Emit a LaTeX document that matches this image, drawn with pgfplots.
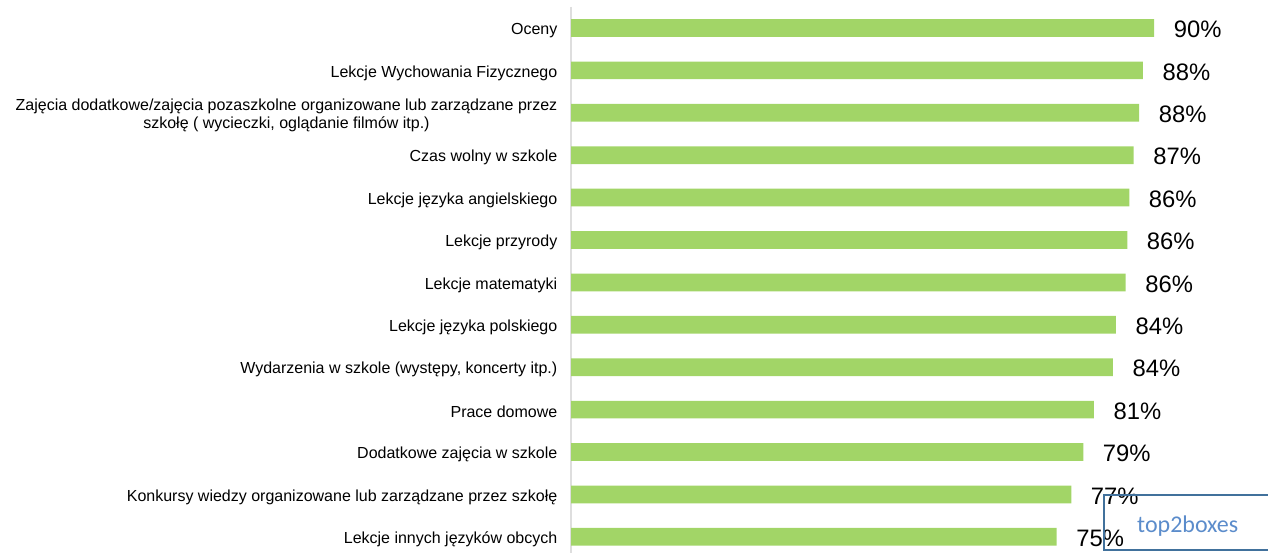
\documentclass[border=0pt]{standalone}
\usepackage{fontspec}
\setmainfont{Liberation Sans}
\newfontfamily\carlito{Carlito}
\usepackage{pgfplots}
\pgfplotsset{compat=1.18}
\usepackage{pgfplotstable}

\definecolor{bargreen}{HTML}{A2D567}
\definecolor{boxblue}{HTML}{41719C}
\definecolor{txtblue}{HTML}{5B8CCB}

% share of answers (top 2 boxes), rows top to bottom
\pgfplotstableread{
idx val
0  90.0
1  88.26
2  87.69
3  86.82
4  86.15
5  85.84
6  85.59
7  84.09
8  83.62
9  80.70
10 79.05
11 77.20
12 74.94
}\mydata

\begin{document}
\begin{tikzpicture}
\path[use as bounding box] (0,0) rectangle (1268pt,553pt);
\begin{axis}[
    at={(571pt,546.2pt)}, anchor=north west,
    scale only axis,
    width=648pt, height=551.2pt,
    xmin=0, xmax=100,
    ymin=-0.5, ymax=12.5,
    y dir=reverse,
    axis x line=none,
    axis y line*=left,
    y axis line style={draw=black!13, line width=1.6pt},
    xtick=\empty,
    ytick={0,...,12},
    major tick length=0pt,
    yticklabels={
      Oceny,
      Lekcje Wychowania Fizycznego,
      {Zajęcia dodatkowe/zajęcia pozaszkolne organizowane lub zarządzane przez\\szkołę ( wycieczki, oglądanie filmów itp.)},
      Czas wolny w szkole,
      Lekcje języka angielskiego,
      Lekcje przyrody,
      Lekcje matematyki,
      Lekcje języka polskiego,
      {Wydarzenia w szkole (występy, koncerty itp.)},
      Prace domowe,
      Dodatkowe zajęcia w szkole,
      Konkursy wiedzy organizowane lub zarządzane przez szkołę,
      Lekcje innych języków obcych
    },
    yticklabel style={font=\fontsize{16pt}{18pt}\selectfont, align=center,
      inner sep=0pt, xshift=-13.5pt, yshift=-2.5pt},
    clip=false,
    xbar,
    bar width=17.7pt,
    point meta=x,
    nodes near coords={\pgfmathprintnumber[fixed,precision=0,assume math mode=true]{\pgfplotspointmeta}\%},
    every node near coord/.append style={anchor=west, inner sep=0pt,
      xshift=19.5pt, yshift=-1.5pt, font=\fontsize{23.8pt}{26pt}\selectfont, text=black},
  ]
  \addplot[fill=bargreen, draw=none] table[x=val, y=idx] {\mydata};
\end{axis}
\draw[boxblue, line width=1.4pt] (1104pt,58pt) rectangle (1290pt,3pt);
\node[anchor=base west, inner sep=0pt, text=txtblue,
  font=\carlito\fontsize{24pt}{26pt}\selectfont] at (1137pt,20.3pt) {top2boxes};
\end{tikzpicture}
\end{document}
